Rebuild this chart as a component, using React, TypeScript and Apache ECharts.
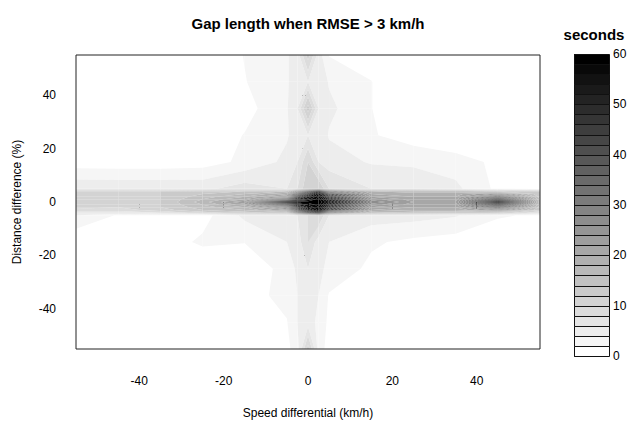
import React, { useEffect, useRef } from "react";
import * as echarts from "echarts";

// Grid of the contour data
const speedDiff = [-55, -45, -35, -25, -15, -5, -2.5, 0, 2.5, 5, 15, 25, 35, 45, 55];
const distDiff = [-55, -45, -35, -25, -15, -5, -4, -3, -2, -1, 0, 1, 2, 3, 4, 5, 15, 25, 35, 45, 55];

// gap length (seconds); one row per distDiff value (bottom to top), columns follow speedDiff
const gapM55 = [0, 0, 0, 0, 0.3, 1.5, 3, 11, 3, 1.2, 0, 0, 0, 0, 0];
const gapM45 = [0, 0, 0, 0, 0.5, 1.9, 4, 5, 3.5, 1.5, 0, 0, 0, 0, 0];
const gapM35 = [0, 0, 0, 0, 1.2, 2.6, 4, 5, 4, 1.8, 0.5, 0, 0, 0, 0];
const gapM25 = [0, 0, 0, 0, 1, 2.5, 4.5, 6, 4.5, 3.5, 1.5, 0, 0, 0, 0];
const gapM15 = [0, 0, 0.8, 2.4, 2.05, 4, 5, 8, 5, 4, 2.3, 1.5, 1, 0, 0];
const gapM5 = [4, 1.8, 1.8, 1.2, 4.5, 5, 6, 8, 10, 6, 5, 4.8, 4.2, 2.3, 1.6];
const gapM4 = [6, 6, 8, 11, 13, 15, 30, 42, 50, 30, 16, 15, 14, 14, 8];
const gapM3 = [9, 9, 11, 14, 16, 22, 40, 50, 57, 42, 20, 18, 18, 25, 12];
const gapM2 = [11, 10, 12, 15, 18, 28, 46, 54, 58, 46, 22, 20, 20, 35, 13];
const gapM1 = [11, 10, 12, 16, 21, 40, 52, 56, 59, 50, 25, 21, 21, 45, 14];
const gap0 = [11, 10, 12, 17, 24, 59, 60, 59, 60, 54, 28, 22, 22, 59, 15];
const gapP1 = [11, 10, 12, 16, 20, 35, 50, 55, 59, 50, 25, 21, 21, 45, 14];
const gapP2 = [11, 10, 12, 15, 18, 24, 44, 52, 58, 45, 22, 20, 20, 35, 13];
const gapP3 = [11, 11, 12, 14, 16, 20, 36, 46, 56, 40, 20, 19, 19, 25, 12];
const gapP4 = [11, 11, 12, 13, 14, 16, 26, 38, 50, 30, 18, 17, 17, 14, 12];
const gapP5 = [5.6, 5.5, 5.5, 5.5, 7, 6, 8, 12, 12, 8, 6, 6, 4.5, 1.5, 0.8];
const gapP15 = [0.9, 0.8, 0.8, 1, 2.5, 4.5, 6, 10, 6, 5, 3.8, 3.5, 3, 1.5, 0.5];
const gapP25 = [0, 0, 0, 0.5, 2.1, 3.8, 5, 6, 5.5, 3.8, 2.2, 1, 0, 0, 0];
const gapP35 = [0, 0, 0, 0, 1.2, 3.8, 6, 13, 6, 4.5, 2.05, 0, 0, 0, 0];
const gapP45 = [0, 0, 0, 0, 1.9, 3.8, 5, 6, 5.5, 3.8, 2.05, 0, 0, 0, 0];
const gapP55 = [0, 0, 0, 0, 2.1, 3.8, 5, 11, 5, 1.9, 1, 0, 0, 0, 0];

const gapRows = [
  gapM55, gapM45, gapM35, gapM25, gapM15, gapM5, gapM4, gapM3, gapM2, gapM1,
  gap0, gapP1, gapP2, gapP3, gapP4, gapP5, gapP15, gapP25, gapP35, gapP45, gapP55,
];

const levels = [0, 2, 4, 6, 8, 10, 12, 14, 16, 18, 20, 22, 24, 26, 28, 30, 32, 34, 36, 38, 40, 42, 44, 46, 48, 50, 52, 54, 56, 58, 60];
const xTicks = [-40, -20, 0, 20, 40];
const yTicks = [-40, -20, 0, 20, 40];

const FONT = "'Liberation Sans', Arial, Helvetica, sans-serif";
const nBands = levels.length - 1;
const bandColor = (k: number) => {
  const g = Math.round(255 * (1 - k / (nBands - 1)));
  return `rgb(${g},${g},${g})`;
};

type P = [number, number, number];
function clipPoly(poly: P[], level: number, keepAbove: boolean): P[] {
  const out: P[] = [];
  const inside = (p: P) => (keepAbove ? p[2] >= level : p[2] <= level);
  for (let i = 0; i < poly.length; i++) {
    const a = poly[i];
    const b = poly[(i + 1) % poly.length];
    const ia = inside(a);
    const ib = inside(b);
    if (ia) out.push(a);
    if (ia !== ib) {
      const t = (level - a[2]) / (b[2] - a[2]);
      out.push([a[0] + t * (b[0] - a[0]), a[1] + t * (b[1] - a[1]), level]);
    }
  }
  return out;
}

export default function App() {
  const ref = useRef<HTMLDivElement>(null);
  useEffect(() => {
    document.body.style.margin = "0";
    if (!ref.current) return;
    const chart = echarts.init(ref.current, undefined, { renderer: "svg" });

    const cells: number[][] = [];
    for (let j = 0; j < distDiff.length - 1; j++) {
      for (let i = 0; i < speedDiff.length - 1; i++) {
        cells.push([(speedDiff[i] + speedDiff[i + 1]) / 2, (distDiff[j] + distDiff[j + 1]) / 2, i, j]);
      }
    }
    const keyData = levels.slice(0, -1).map((lo, k) => [0.5, lo + 1, lo, levels[k + 1], k]);

    const option: any = {
      animation: false,
      backgroundColor: "#ffffff",
      textStyle: { fontFamily: FONT },
      tooltip: { show: false },
      grid: [
        { left: 76, top: 55, width: 464, height: 294, show: true, borderColor: "#222", borderWidth: 1, backgroundColor: "transparent", z: 10, outerBoundsMode: "none", containLabel: false },
        { left: 574, top: 54, width: 35, height: 302, show: false, outerBoundsMode: "none", containLabel: false },
      ],
      xAxis: [
        {
          type: "value", gridIndex: 0, min: -55, max: 55,
          name: "Speed differential (km/h)", nameLocation: "middle", nameGap: 58,
          nameTextStyle: { fontSize: 12, color: "#000", fontFamily: FONT },
          axisLine: { show: false },
          axisTick: { show: true, length: 7, customValues: xTicks, lineStyle: { color: "#222" } },
          axisLabel: { customValues: xTicks, margin: 26, fontSize: 12, color: "#000", fontFamily: FONT },
          splitLine: { show: false },
        },
        {
          type: "value", gridIndex: 1, min: 0, max: 1,
          axisLine: { show: false }, axisTick: { show: false }, axisLabel: { show: false }, splitLine: { show: false },
        },
      ],
      yAxis: [
        {
          type: "value", gridIndex: 0, min: -55, max: 55,
          name: "Distance difference (%)", nameLocation: "middle", nameGap: 53, nameRotate: 90,
          nameTextStyle: { fontSize: 12, color: "#000", fontFamily: FONT },
          axisLine: { show: false },
          axisTick: { show: true, length: 7, customValues: yTicks, lineStyle: { color: "#222" } },
          axisLabel: { customValues: yTicks, margin: 20, fontSize: 12, color: "#000", fontFamily: FONT },
          splitLine: { show: false },
        },
        {
          type: "value", gridIndex: 1, min: 0, max: 60, interval: 10, position: "right",
          axisLine: { show: false },
          axisTick: { show: true, length: 6, lineStyle: { color: "#222" } },
          axisLabel: { margin: 4, fontSize: 12, color: "#000", fontFamily: FONT },
          splitLine: { show: false },
        },
      ],
      graphic: [
        {
          type: "text", x: 308, y: 23,
          style: { text: "Gap length when RMSE > 3 km/h", font: `bold 15px ${FONT}`, fill: "#000", textAlign: "center", textVerticalAlign: "middle" },
        },
        {
          type: "text", x: 594, y: 34,
          style: { text: "seconds", font: `bold 15px ${FONT}`, fill: "#000", textAlign: "center", textVerticalAlign: "middle" },
        },
      ],
      series: [
        {
          type: "custom",
          xAxisIndex: 0, yAxisIndex: 0,
          clip: true,
          silent: true,
          encode: { x: 0, y: 1 },
          data: cells,
          renderItem: (params: any, api: any) => {
            const i = api.value(2);
            const j = api.value(3);
            const x0 = speedDiff[i], x1 = speedDiff[i + 1];
            const y0 = distDiff[j], y1 = distDiff[j + 1];
            const cap = (v: number) => Math.min(v, 60);
            const quad: P[] = [
              [x0, y0, cap(gapRows[j][i])],
              [x1, y0, cap(gapRows[j][i + 1])],
              [x1, y1, cap(gapRows[j + 1][i + 1])],
              [x0, y1, cap(gapRows[j + 1][i])],
            ];
            const vmin = Math.min(...quad.map((q) => q[2]));
            const vmax = Math.max(...quad.map((q) => q[2]));
            const children: any[] = [];
            for (let k = 1; k < nBands; k++) {
              const lo = levels[k], hi = levels[k + 1];
              if (vmax < lo || vmin > hi) continue;
              let poly = clipPoly(quad, lo, true);
              if (poly.length < 3) continue;
              poly = clipPoly(poly, hi, false);
              if (poly.length < 3) continue;
              const pts = poly.map((p) => api.coord([p[0], p[1]]));
              children.push({
                type: "polygon",
                shape: { points: pts },
                style: { fill: bandColor(k), stroke: null },
              });
            }
            return { type: "group", children };
          },
        },
        {
          type: "custom",
          xAxisIndex: 1, yAxisIndex: 1,
          clip: false,
          silent: true,
          encode: { x: 0, y: 1 },
          data: keyData,
          renderItem: (params: any, api: any) => {
            const lo = api.value(2), hi = api.value(3), k = api.value(4);
            const p0 = api.coord([0, hi]);
            const p1 = api.coord([1, lo]);
            const xa = Math.round(p0[0]) + 0.5, xb = Math.round(p1[0]) + 0.5;
            const ya = Math.round(p0[1]) + 0.5, yb = Math.round(p1[1]) + 0.5;
            return {
              type: "rect",
              shape: { x: xa, y: ya, width: xb - xa, height: yb - ya },
              style: { fill: bandColor(k), stroke: "#111", lineWidth: 1 },
            };
          },
        },
      ],
    };
    chart.setOption(option);
    return () => chart.dispose();
  }, []);
  return <div ref={ref} style={{ width: 643, height: 421 }} />;
}
